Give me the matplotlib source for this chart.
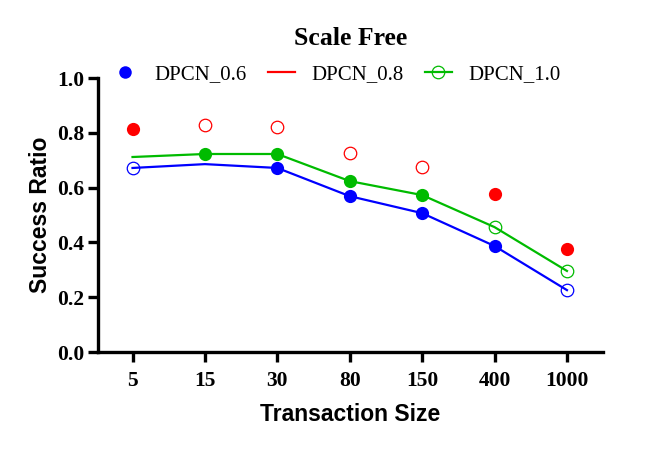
import matplotlib
matplotlib.use("Agg")
import matplotlib.pyplot as plt
from matplotlib.lines import Line2D
import numpy as np

categories = ["5", "15", "30", "80", "150", "400", "1000"]
dpcn_06 = [0.672, 0.686, 0.672, 0.569, 0.507, 0.387, 0.226]
dpcn_08 = [0.814, 0.828, 0.821, 0.726, 0.675, 0.577, 0.376]
dpcn_10 = [0.712, 0.723, 0.723, 0.624, 0.573, 0.456, 0.296]

# marker styles per point: 'f' filled, 'o' open, '' none
mk_06 = ["o", "", "f", "f", "f", "f", "o"]
mk_08 = ["f", "o", "o", "o", "o", "f", "f"]
mk_10 = ["", "f", "f", "f", "f", "o", "o"]

BLUE = "#0000ff"
RED = "#ff0000"
GREEN = "#00bb00"

fig = plt.figure(figsize=(6.65, 4.49), dpi=100)
ax = fig.add_axes([0.147, 0.216, 0.76, 0.61])

x = np.arange(len(categories))

def draw(vals, marks, color, line):
    if line:
        ax.plot(x, vals, color=color, lw=1.6, zorder=2)
    for xi, v, m in zip(x, vals, marks):
        if m == "f":
            ax.plot(xi, v, "o", ms=9.5, mfc=color, mec=color, mew=0, zorder=3)
        elif m == "o":
            ax.plot(xi, v, "o", ms=9, mfc="white" if not line else "none",
                    mec=color, mew=0.9, zorder=3)

draw(dpcn_06, mk_06, BLUE, True)
draw(dpcn_10, mk_10, GREEN, True)
draw(dpcn_08, mk_08, RED, False)

ax.set_xlim(-0.48, 6.5)
ax.set_ylim(0, 1.0)
ax.set_xticks(x)
ax.set_xticklabels(categories)
ax.set_yticks(np.arange(0, 1.01, 0.2))
ax.set_yticklabels([f"{v:.1f}" for v in np.arange(0, 1.01, 0.2)])

for s in ["top", "right"]:
    ax.spines[s].set_visible(False)
for s in ["left", "bottom"]:
    ax.spines[s].set_linewidth(2.4)
ax.tick_params(axis="both", width=2.4, length=7, direction="out", pad=2.5)
ax.tick_params(axis="x", pad=7)
for lab in ax.get_xticklabels() + ax.get_yticklabels():
    lab.set_fontfamily("Liberation Serif")
    lab.set_fontweight("bold")
    lab.set_fontsize(15.5)

ax.set_xlabel("Transaction Size", fontfamily="Liberation Sans", fontweight="bold",
              fontsize=16.5, labelpad=8)
ax.set_ylabel("Success Ratio", fontfamily="Liberation Sans", fontweight="bold",
              fontsize=16.5, labelpad=4)

fig.text(0.527, 0.915, "Scale Free", ha="center", va="center",
         fontfamily="Liberation Serif", fontweight="bold", fontsize=18.5)

handles = [
    Line2D([], [], ls="none", marker="o", ms=9, mfc=BLUE, mec=BLUE, mew=0),
    Line2D([], [], color=RED, lw=1.6),
    Line2D([], [], color=GREEN, lw=1.6, marker="o", ms=9, mfc="none", mec=GREEN, mew=0.9),
]
fig.legend(handles, ["DPCN_0.6", "DPCN_0.8", "DPCN_1.0"], ncol=3, frameon=False,
           loc="center", bbox_to_anchor=(0.505, 0.835), prop={"family": "Liberation Serif", "size": 15},
           handlelength=1.3, columnspacing=1.0, handletextpad=0.8)

fig.savefig("out.png", dpi=100)
